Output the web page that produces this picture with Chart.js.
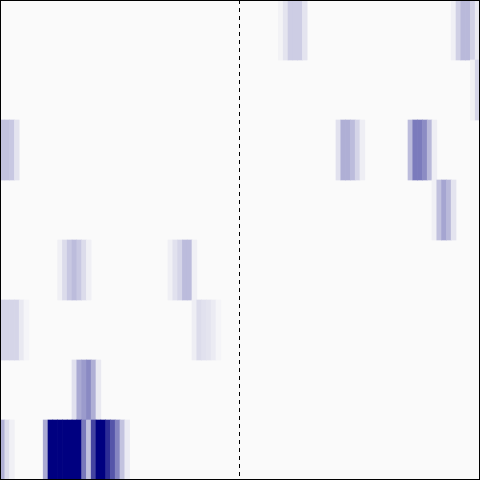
<!DOCTYPE html>
<html lang="en">
  <head>
    <meta charset="UTF-8" />
    <title>Heatmap</title>
    <script src="https://cdn.jsdelivr.net/npm/chart.js"></script>
    <style>
      body { margin: 0; background: #ffffff; }
    </style>
  </head>
  <body>
    <canvas id="heatmap" width="480" height="480"></canvas>

    <script>
      // rows top to bottom, 100 columns each
      const rowLabels = ["1", "2", "3", "4", "5", "6", "7", "8"];
      const columnCount = 100;
      const dividerAt = 50;

      // each run: a row, a first column and the cell values from there on (0..1)
      const runRow = [0, 0, 1, 2, 2, 2, 3, 4, 4, 5, 5, 6, 7, 7];
      const runStart = [58, 94, 98, 0, 70, 85, 90, 12, 35, 0, 40, 15, 0, 9];
      const runValues = [
        [0.03, 0.09, 0.18, 0.18, 0.18, 0.09],
        [0.04, 0.17, 0.26, 0.26, 0.17, 0.07],
        [0.04, 0.15],
        [0.22, 0.22, 0.2, 0.09],
        [0.1, 0.3, 0.3, 0.25, 0.15, 0.05],
        [0.25, 0.51, 0.51, 0.44, 0.26, 0.05],
        [0.04, 0.23, 0.34, 0.26, 0.09],
        [0.04, 0.12, 0.2, 0.25, 0.2, 0.12, 0.04],
        [0.04, 0.1, 0.15, 0.25, 0.25, 0.04],
        [0.15, 0.15, 0.15, 0.15, 0.07, 0.02],
        [0.05, 0.12, 0.1, 0.09, 0.06, 0.02],
        [0.1, 0.32, 0.38, 0.45, 0.3, 0.07],
        [0.3, 0.12, 0.04],
        [0.32, 1, 1, 1, 1, 1, 1, 1, 0.52, 0.23, 0.73, 1, 1, 0.82, 0.66, 0.47, 0.22, 0.06],
      ];

      // white-ish to navy
      function cellColor(v) {
        const r = Math.round(250 - 250 * v);
        const b = Math.round(250 - 122 * v);
        return `rgb(${r}, ${r}, ${b})`;
      }

      const cells = [];
      const colors = [];
      runRow.forEach((row, i) => {
        runValues[i].forEach((v, k) => {
          const col = runStart[i] + k;
          cells.push({ y: rowLabels[row], x: [col, col + 1] });
          colors.push(cellColor(v));
        });
      });

      const frame = {
        id: "frame",
        beforeDraw(chart) {
          const { ctx, chartArea } = chart;
          ctx.save();
          ctx.fillStyle = "#fafafa";
          ctx.fillRect(chartArea.left, chartArea.top, chartArea.width, chartArea.height);
          ctx.restore();
        },
        afterDraw(chart) {
          const { ctx, chartArea } = chart;
          const x = Math.round(chart.scales.x.getPixelForValue(dividerAt)) - 0.5;
          ctx.save();
          ctx.strokeStyle = "#000000";
          ctx.lineWidth = 1;
          ctx.setLineDash([4, 4]);
          ctx.beginPath();
          ctx.moveTo(x, chartArea.top);
          ctx.lineTo(x, chartArea.bottom);
          ctx.stroke();
          ctx.setLineDash([]);
          ctx.strokeRect(0.5, 0.5, chart.width - 1, chart.height - 1);
          ctx.restore();
        },
      };

      new Chart(document.getElementById("heatmap"), {
        type: "bar",
        data: {
          labels: rowLabels,
          datasets: [
            {
              data: cells,
              backgroundColor: colors,
              borderWidth: 0,
              categoryPercentage: 1,
              barPercentage: 1,
            },
          ],
        },
        options: {
          indexAxis: "y",
          responsive: false,
          animation: false,
          layout: { padding: 0 },
          plugins: { legend: { display: false }, tooltip: { enabled: false } },
          scales: {
            x: { type: "linear", min: 0, max: columnCount, display: false },
            y: { display: false },
          },
        },
        plugins: [frame],
      });
    </script>
  </body>
</html>
